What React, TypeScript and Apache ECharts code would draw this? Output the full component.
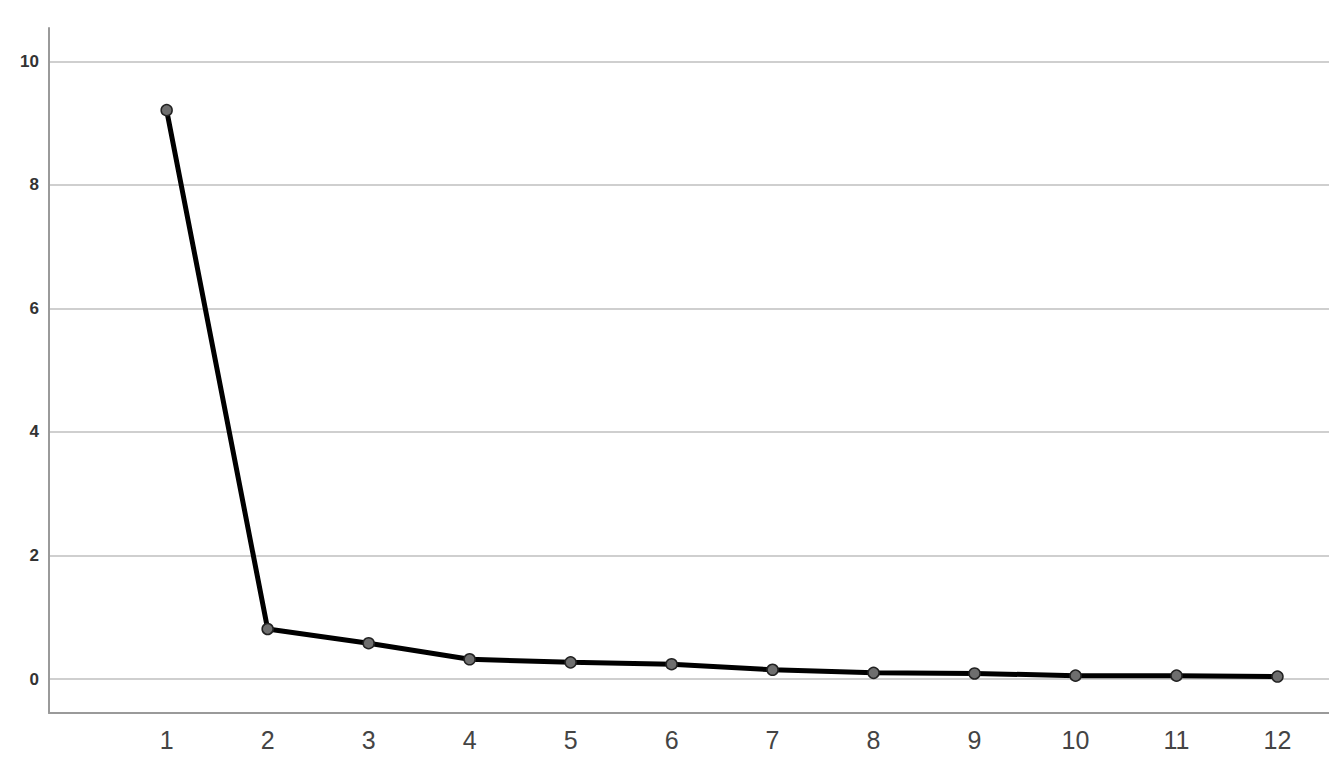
import React, { useEffect, useRef } from 'react'
import * as echarts from 'echarts'

const components = [1, 2, 3, 4, 5, 6, 7, 8, 9, 10, 11, 12]
const eigenvalues = [9.21, 0.81, 0.58, 0.32, 0.27, 0.24, 0.15, 0.1, 0.09, 0.055, 0.055, 0.04]
const yTicks = [0, 2, 4, 6, 8, 10]

const App: React.FC = () => {
    const chartRef = useRef<HTMLDivElement | null>(null)

    useEffect(() => {
        if (!chartRef.current) return
        const chart = echarts.init(chartRef.current, undefined, { renderer: 'svg' })

        chart.setOption({
            animation: false,
            grid: { left: 49, right: 0, top: 28, bottom: 58 },
            xAxis: {
                type: 'value',
                min: -0.165,
                max: 12.51,
                axisLine: { onZero: false, lineStyle: { color: '#9a9a9a', width: 2 } },
                axisTick: { show: false, customValues: components },
                splitLine: { show: false },
                axisLabel: {
                    customValues: components,
                    color: '#444',
                    fontSize: 25,
                    fontFamily: 'Liberation Sans, Arial, sans-serif',
                    margin: 14,
                },
            },
            yAxis: {
                type: 'value',
                min: -0.55,
                max: 10.54,
                axisLine: { show: true, onZero: false, lineStyle: { color: '#9a9a9a', width: 2 } },
                axisTick: { show: false, customValues: yTicks },
                splitLine: { show: true, lineStyle: { color: '#cfcfcf', width: 2 } },
                axisLabel: {
                    customValues: yTicks,
                    color: '#333',
                    fontSize: 17,
                    fontWeight: 'bold',
                    fontFamily: 'Liberation Sans, Arial, sans-serif',
                    margin: 10,
                },
            },
            series: [
                {
                    type: 'line',
                    data: components.map((c, i) => [c, eigenvalues[i]]),
                    symbol: 'circle',
                    symbolSize: 11,
                    lineStyle: { color: '#000', width: 5 },
                    itemStyle: { color: '#6e6e6e', borderColor: '#222', borderWidth: 1.5 },
                },
            ],
        })

        return () => {
            chart.dispose()
        }
    }, [])

    return (
        <div
            ref={chartRef}
            style={{ position: 'fixed', left: 0, top: 0, width: '1329px', height: '771px', background: '#fff' }}
        />
    )
}

export default App
